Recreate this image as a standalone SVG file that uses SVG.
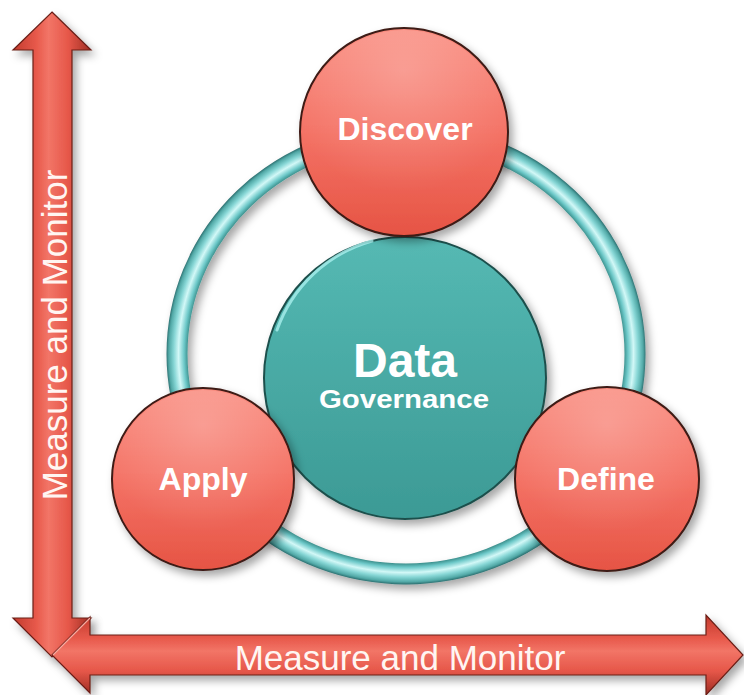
<svg xmlns="http://www.w3.org/2000/svg" width="744" height="695" viewBox="0 0 744 695">
  <defs>
    <filter id="shadow" x="-20%" y="-20%" width="140%" height="140%">
      <feDropShadow dx="4" dy="5" stdDeviation="4" flood-color="#000" flood-opacity="0.35"/>
    </filter>
    <linearGradient id="redCircle" x1="0" y1="0" x2="0" y2="1">
      <stop offset="0" stop-color="#f98b7e"/>
      <stop offset="0.5" stop-color="#f47265"/>
      <stop offset="1" stop-color="#e65444"/>
    </linearGradient>
    <linearGradient id="tealCircle" x1="0" y1="0" x2="0" y2="1">
      <stop offset="0" stop-color="#55b9b3"/>
      <stop offset="1" stop-color="#3c9a95"/>
    </linearGradient>
    <radialGradient id="ringGrad" gradientUnits="userSpaceOnUse" cx="0" cy="0" r="240" gradientTransform="translate(406,354) scale(1,0.9607)">
      <stop offset="0" stop-color="#3a8d8a"/>
      <stop offset="0.908" stop-color="#3a8d8a"/>
      <stop offset="0.925" stop-color="#6cc8c8"/>
      <stop offset="0.948" stop-color="#d2f8f7"/>
      <stop offset="0.968" stop-color="#86d6d5"/>
      <stop offset="0.988" stop-color="#52a9a7"/>
      <stop offset="1" stop-color="#28696a"/>
    </radialGradient>
    <linearGradient id="vArrowGrad" gradientUnits="userSpaceOnUse" x1="13" y1="0" x2="92" y2="0">
      <stop offset="0" stop-color="#c23a2d"/>
      <stop offset="0.3" stop-color="#e85a4c"/>
      <stop offset="0.45" stop-color="#f27567"/>
      <stop offset="0.7" stop-color="#e65749"/>
      <stop offset="1" stop-color="#9c2b21"/>
    </linearGradient>
    <linearGradient id="hArrowGrad" gradientUnits="userSpaceOnUse" x1="0" y1="615" x2="0" y2="695">
      <stop offset="0" stop-color="#c23a2d"/>
      <stop offset="0.3" stop-color="#e85a4c"/>
      <stop offset="0.45" stop-color="#f27567"/>
      <stop offset="0.7" stop-color="#e65749"/>
      <stop offset="1" stop-color="#9c2b21"/>
    </linearGradient>
    <radialGradient id="gloss" cx="0.5" cy="0.2" r="0.6">
      <stop offset="0" stop-color="#fff" stop-opacity="0.22"/>
      <stop offset="1" stop-color="#fff" stop-opacity="0"/>
    </radialGradient>
  </defs>
  <style>
    .red { fill: url(#redCircle); stroke: #3d1a14; stroke-width: 2; filter: url(#shadow); }
    .teal { fill: url(#tealCircle); stroke: #1d4f4c; stroke-width: 2; filter: url(#shadow); }
    .arrowV { fill: url(#vArrowGrad); stroke: #6a1f17; stroke-width: 1.2; stroke-linejoin: miter; filter: url(#shadow); }
    .arrowH { fill: url(#hArrowGrad); stroke: #6a1f17; stroke-width: 1.2; stroke-linejoin: miter; filter: url(#shadow); }
    .lbl { font-family: "Liberation Sans", Arial, sans-serif; font-weight: bold; fill: #ffffff; text-anchor: middle; }
    .axis { font-family: "Liberation Sans", Arial, sans-serif; font-size: 35px; fill: #fff6f2; text-anchor: middle; }
  </style>

  <g id="axis-vertical">
    <polygon class="arrowV" points="52,12 91,50 72,50 72,618 91,618 52,657 13,618 33,618 33,50 13,50"/>
    <text class="axis" transform="translate(67,335) rotate(-90)" x="0" y="0">Measure and Monitor</text>
  </g>

  <g id="axis-horizontal">
    <polygon class="arrowH" points="52,655 90,617 90,635 706,635 706,615 743,655 706,695 706,675 90,675 90,693"/>
    <line x1="53" y1="655" x2="90" y2="618" stroke="#f9a89e" stroke-width="1.2"/>
    <text class="axis" x="400" y="670">Measure and Monitor</text>
  </g>

  <g id="connectors">
    <ellipse cx="406" cy="354" rx="229" ry="220" fill="none" stroke="url(#ringGrad)" stroke-width="21" filter="url(#shadow)"/>
  </g>

  <g id="node-data-governance">
    <circle class="teal" cx="405" cy="378" r="141"/>
    <path d="M 277 330 A 141 141 0 0 1 372 241" fill="none" stroke="#a9f0ee" stroke-width="3" stroke-linecap="round" opacity="0.8"/>
    <text class="lbl" x="405" y="377" font-size="48">Data</text>
    <text class="lbl" x="404" y="408" font-size="26" textLength="170" lengthAdjust="spacingAndGlyphs">Governance</text>
  </g>

  <g id="node-discover">
    <circle class="red" cx="404" cy="132" r="104"/>
    <circle cx="404" cy="132" r="102" fill="url(#gloss)"/>
    <text class="lbl" x="405" y="140" font-size="32">Discover</text>
  </g>

  <g id="node-apply">
    <circle class="red" cx="203" cy="479" r="91"/>
    <circle cx="203" cy="479" r="89" fill="url(#gloss)"/>
    <text class="lbl" x="203" y="490" font-size="32">Apply</text>
  </g>

  <g id="node-define">
    <circle class="red" cx="607" cy="479" r="92"/>
    <circle cx="607" cy="479" r="90" fill="url(#gloss)"/>
    <text class="lbl" x="606" y="490" font-size="32">Define</text>
  </g>
</svg>
